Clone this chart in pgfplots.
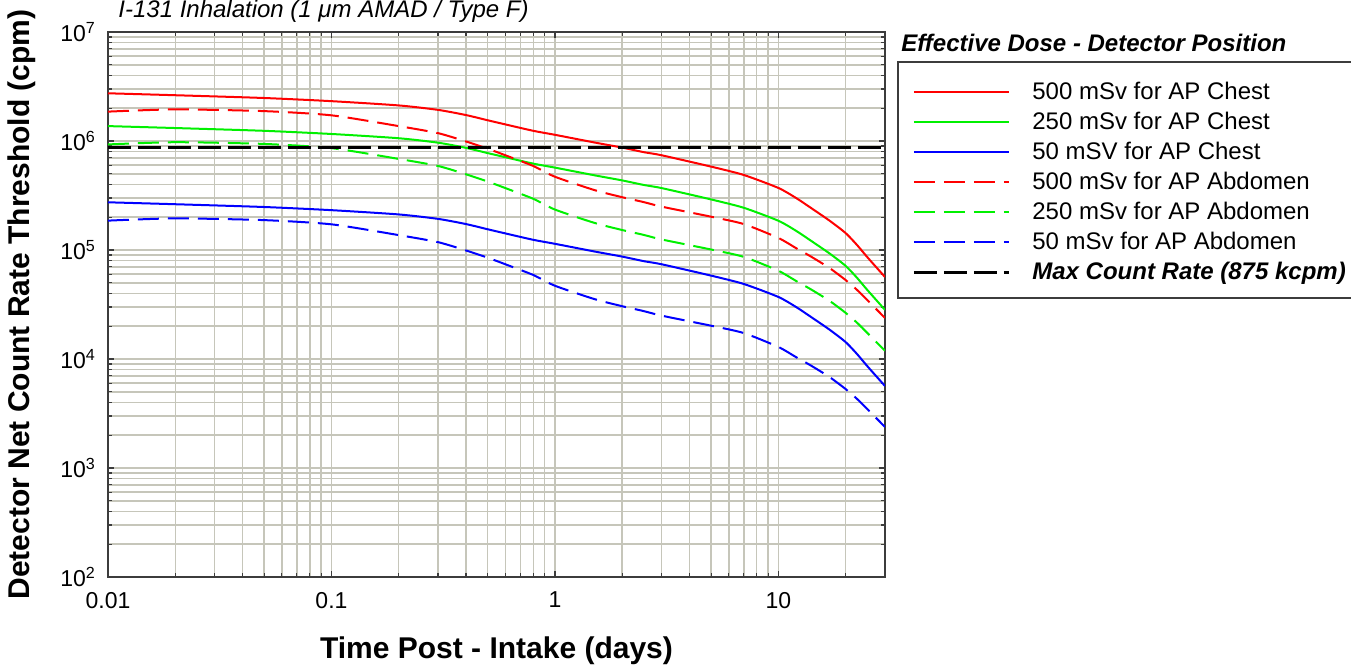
\documentclass[border=0pt]{standalone}
\usepackage{fontspec}
\setmainfont{Liberation Sans}
\usepackage{pgfplots}
\pgfplotsset{compat=1.18}
\usepackage{pgfplotstable}
\definecolor{gridc}{RGB}{198,198,186}
\definecolor{myred}{RGB}{255,0,0}
\definecolor{mygreen}{RGB}{0,240,0}
\definecolor{myblue}{RGB}{0,0,255}
\definecolor{framec}{RGB}{60,60,60}

\pgfplotstableread{
x     c500    c250     c50     a500    a250     a50
0.01  2.74e6  1.37e6   2.74e5  1.86e6  9.3e5    1.86e5
0.02  2.63e6  1.315e6  2.63e5  1.95e6  9.75e5   1.95e5
0.05  2.48e6  1.24e6   2.48e5  1.88e6  9.4e5    1.88e5
0.1   2.32e6  1.16e6   2.32e5  1.72e6  8.6e5    1.72e5
0.2   2.12e6  1.06e6   2.12e5  1.37e6  6.85e5   1.37e5
0.3   1.93e6  9.65e5   1.93e5  1.18e6  5.9e5    1.18e5
0.4   1.73e6  8.65e5   1.73e5  9.9e5   4.95e5   9.9e4
0.5   1.55e6  7.75e5   1.55e5  8.5e5   4.25e5   8.5e4
0.6   1.42e6  7.1e5    1.42e5  7.4e5   3.7e5    7.4e4
0.8   1.24e6  6.2e5    1.24e5  5.9e5   2.95e5   5.9e4
1     1.14e6  5.7e5    1.14e5  4.7e5   2.35e5   4.7e4
1.5   9.7e5   4.85e5   9.7e4   3.55e5  1.775e5  3.55e4
2     8.7e5   4.35e5   8.7e4   3.05e5  1.525e5  3.05e4
2.5   7.9e5   3.95e5   7.9e4   2.75e5  1.375e5  2.75e4
3     7.4e5   3.7e5    7.4e4   2.5e5   1.25e5   2.5e4
5     5.82e5  2.91e5   5.82e4  2.02e5  1.01e5   2.02e4
7     4.88e5  2.44e5   4.88e4  1.73e5  8.65e4   1.73e4
10    3.71e5  1.855e5  3.71e4  1.29e5  6.45e4   1.29e4
12    3.0e5   1.5e5    3.0e4   1.04e5  5.2e4    1.04e4
14    2.43e5  1.215e5  2.43e4  8.7e4   4.35e4   8.7e3
17    1.85e5  9.25e4   1.85e4  6.8e4   3.4e4    6.8e3
20    1.43e5  7.15e4   1.43e4  5.3e4   2.65e4   5.3e3
22.5  1.11e5  5.55e4   1.11e4  4.3e4   2.15e4   4.3e3
25    8.6e4   4.3e4    8.6e3   3.47e4  1.735e4  3.47e3
30    5.65e4  2.825e4  5.65e3  2.38e4  1.19e4   2.38e3
}\data

\begin{document}
\begin{tikzpicture}
\begin{axis}[
  name=ax,
  width=388.5pt, height=272.5pt, scale only axis,
  xmode=log, ymode=log,
  xmin=0.01, xmax=30, ymin=100, ymax=1e7,
  xtick={0.01,0.1,1,10}, xticklabels={0.01,0.1,1,10},
  minor xtick={0.02,0.03,0.04,0.05,0.06,0.07,0.08,0.09,0.2,0.3,0.4,0.5,0.6,0.7,0.8,0.9,2,3,4,5,6,7,8,9,20,30},
  ytick={1e2,1e3,1e4,1e5,1e6,1e7},
  yticklabels={10\textsuperscript{2},10\textsuperscript{3},10\textsuperscript{4},10\textsuperscript{5},10\textsuperscript{6},10\textsuperscript{7}},
  minor ytick={2e2,3e2,4e2,5e2,6e2,7e2,8e2,9e2,2e3,3e3,4e3,5e3,6e3,7e3,8e3,9e3,2e4,3e4,4e4,5e4,6e4,7e4,8e4,9e4,2e5,3e5,4e5,5e5,6e5,7e5,8e5,9e5,2e6,3e6,4e6,5e6,6e6,7e6,8e6,9e6},
  grid=both,
  major grid style={gridc, line width=0.75pt},
  minor grid style={gridc, line width=0.75pt},
  axis line style={framec, line width=1pt},
  tick style={framec, line width=0.6pt},
  major tick length=3pt, minor tick length=2pt,
  tick label style={font=\fontsize{11.5}{13}\selectfont},
  xticklabel style={yshift=-4pt},
  yticklabel style={xshift=-2.5pt},
  xlabel={Time Post - Intake (days)},
  ylabel={Detector Net Count Rate Threshold (cpm)},
  label style={font=\fontsize{15}{18}\selectfont\bfseries},
  xlabel style={at={(axis description cs:0.5,-0.1358)}, anchor=center},
  ylabel style={at={(axis description cs:-0.1107,0.5)}, anchor=center},
  legend style={at={(axis description cs:1,1)}, anchor=north west,
    xshift=13.5pt, yshift=-22.5pt, draw=none, fill=none, inner sep=0pt,
    font=\fontsize{12}{14}\selectfont, row sep=0pt, column sep=11pt,
    nodes={inner sep=0pt, minimum height=15pt}},
  legend cell align=left,
  legend image code/.code={\draw[#1] (0pt,0pt) -- (47.5pt,0pt);},
]
\addplot[myred, line width=1pt, smooth, tension=0.4] table[x=x,y=c500]{\data};
\addlegendentry{500 mSv for AP Chest}
\addplot[mygreen, line width=1pt, smooth, tension=0.4] table[x=x,y=c250]{\data};
\addlegendentry{250 mSv for AP Chest}
\addplot[myblue, line width=1pt, smooth, tension=0.4] table[x=x,y=c50]{\data};
\addlegendentry{50 mSV for AP Chest}
\addplot[myred, line width=1pt, dash pattern=on 10.5pt off 4.5pt, smooth, tension=0.4] table[x=x,y=a500]{\data};
\addlegendentry{500 mSv for AP Abdomen}
\addplot[mygreen, line width=1pt, dash pattern=on 10.5pt off 4.5pt, smooth, tension=0.4] table[x=x,y=a250]{\data};
\addlegendentry{250 mSv for AP Abdomen}
\addplot[myblue, line width=1pt, dash pattern=on 10.5pt off 4.5pt, smooth, tension=0.4] table[x=x,y=a50]{\data};
\addlegendentry{50 mSv for AP Abdomen}
\addplot[black, line width=1.5pt, dash pattern=on 11.5pt off 3.5pt] coordinates {(0.01,875000) (30,875000)};
\addlegendentry{\textbf{\textit{Max Count Rate (875 kcpm)}}}
\end{axis}
\node[anchor=base, inner sep=0pt, font=\fontsize{12}{14}\selectfont\itshape] at ([shift={(107.75pt,7pt)}]ax.north west) {I-131 Inhalation (1 μm AMAD / Type F)};
\node[anchor=base west, inner sep=0pt, font=\fontsize{12}{14}\selectfont\bfseries\itshape] at ([shift={(8pt,-9.5pt)}]ax.north east) {Effective Dose - Detector Position};
\draw[framec, line width=1pt] ([shift={(6.5pt,-15pt)}]ax.north east) rectangle ([shift={(260pt,-133pt)}]ax.north east);
\pgfresetboundingbox
\useasboundingbox ([shift={(-54pt,-44.5pt)}]ax.south west) rectangle ([shift={(233pt,16pt)}]ax.north east);
\end{tikzpicture}
\end{document}
